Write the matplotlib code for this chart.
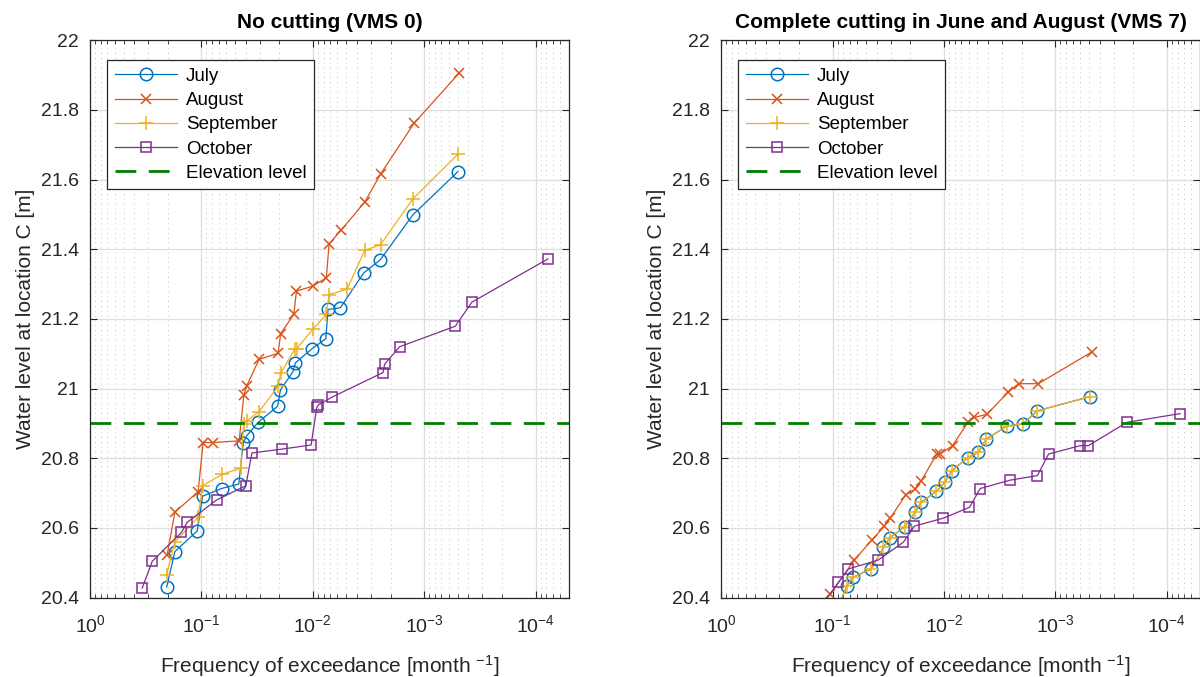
import numpy as np
import matplotlib
matplotlib.use('Agg')
import matplotlib.pyplot as plt
from matplotlib.ticker import LogLocator, FuncFormatter, MultipleLocator, NullFormatter

plt.rcParams['font.family'] = ['Liberation Sans', 'DejaVu Sans']
plt.rcParams['mathtext.fontset'] = 'custom'
plt.rcParams['mathtext.rm'] = 'Liberation Sans'
plt.rcParams['mathtext.it'] = 'Liberation Sans:italic'

# data: frequency of exceedance [1/month], water level [m]
left_july_f = [0.205, 0.173, 0.109, 0.0975, 0.0659, 0.0461, 0.0422, 0.0393, 0.0309, 0.0207, 0.0195,
               0.0151, 0.0143, 0.0101, 0.00764, 0.00729, 0.00565, 0.00349, 0.00247, 0.00126, 0.000497]
left_july_h = [20.43, 20.532, 20.591, 20.691, 20.713, 20.726, 20.843, 20.864, 20.903, 20.949, 20.996,
               21.048, 21.074, 21.115, 21.143, 21.227, 21.232, 21.332, 21.370, 21.499, 21.623]

left_aug_f = [0.203, 0.173, 0.107, 0.0964, 0.0784, 0.0458, 0.0416, 0.0393, 0.0303, 0.0205, 0.0194,
              0.0148, 0.014, 0.0100, 0.00755, 0.00714, 0.00553, 0.00342, 0.00246, 0.00123, 0.000487]
left_aug_h = [20.522, 20.645, 20.704, 20.845, 20.845, 20.850, 20.981, 21.007, 21.084, 21.101, 21.158,
              21.213, 21.280, 21.294, 21.318, 21.415, 21.456, 21.535, 21.616, 21.762, 21.905]

left_sep_f = [0.205, 0.173, 0.107, 0.0975, 0.065, 0.0445, 0.0416, 0.0393, 0.0303, 0.0205, 0.0194,
              0.0145, 0.0139, 0.0100, 0.00755, 0.00714, 0.00492, 0.00342, 0.00246, 0.00126, 0.000497]
left_sep_h = [20.465, 20.560, 20.630, 20.721, 20.754, 20.771, 20.898, 20.907, 20.934, 21.006, 21.044,
              21.113, 21.115, 21.170, 21.213, 21.270, 21.285, 21.397, 21.413, 21.545, 21.673]

left_oct_f = [0.34, 0.276, 0.151, 0.134, 0.0731, 0.0399, 0.0352, 0.019, 0.01035, 0.0092, 0.0089,
              0.00665, 0.00234, 0.00226, 0.00166, 0.000525, 0.000373, 7.76e-5]
left_oct_h = [20.427, 20.504, 20.587, 20.616, 20.680, 20.721, 20.815, 20.826, 20.838, 20.946, 20.953,
              20.976, 21.046, 21.070, 21.120, 21.179, 21.248, 21.372]

right_july_f = [0.095, 0.0744, 0.0657, 0.0450, 0.0349, 0.0308, 0.0226, 0.0181, 0.0161, 0.0117, 0.00976,
                0.00849, 0.0061, 0.0049, 0.00418, 0.00269, 0.00196, 0.00145, 0.000487]
right_july_h = [20.35, 20.434, 20.458, 20.482, 20.544, 20.571, 20.603, 20.645, 20.673, 20.705, 20.732,
                20.764, 20.802, 20.817, 20.855, 20.893, 20.898, 20.936, 20.977]

right_aug_f = [0.16, 0.105, 0.0636, 0.0444, 0.0342, 0.0304, 0.022, 0.0181, 0.016, 0.0116, 0.0108,
               0.00838, 0.00603, 0.00536, 0.00412, 0.00264, 0.00214, 0.00142, 0.000471]
right_aug_h = [20.35, 20.409, 20.508, 20.565, 20.605, 20.628, 20.695, 20.711, 20.735, 20.812, 20.812,
               20.836, 20.905, 20.917, 20.926, 20.990, 21.014, 21.014, 21.105]

right_sep_f = [0.095, 0.0744, 0.0657, 0.0450, 0.0349, 0.0308, 0.0226, 0.0181, 0.0161, 0.0117, 0.00976,
               0.00849, 0.0061, 0.0049, 0.00418, 0.00269, 0.00196, 0.00145, 0.000487]
right_sep_h = [20.35, 20.434, 20.458, 20.482, 20.544, 20.571, 20.603, 20.645, 20.673, 20.705, 20.732,
               20.764, 20.802, 20.817, 20.855, 20.893, 20.898, 20.936, 20.977]

right_oct_f = [0.144, 0.0885, 0.072, 0.0387, 0.0231, 0.0184, 0.0101, 0.0059, 0.00473, 0.00255, 0.00145,
               0.00115, 0.000599, 0.000505, 0.000228, 7.59e-5]
right_oct_h = [20.35, 20.444, 20.482, 20.508, 20.559, 20.605, 20.628, 20.659, 20.713, 20.737, 20.750,
               20.812, 20.836, 20.836, 20.903, 20.928]

elevation = 20.9
titles = ['No cutting (VMS 0)', 'Complete cutting in June and August (VMS 7)']
months = ['July', 'August', 'September', 'October']

# MATLAB default colours
colors = ['#0072BD', '#D95319', '#EDB120', '#7E2F8E']
markers = ['o', 'x', '+', 's']
msizes = [9, 7, 10, 7.5]

panels = [
    [(left_july_f, left_july_h), (left_aug_f, left_aug_h), (left_sep_f, left_sep_h), (left_oct_f, left_oct_h)],
    [(right_july_f, right_july_h), (right_aug_f, right_aug_h), (right_sep_f, right_sep_h), (right_oct_f, right_oct_h)],
]

fig = plt.figure(figsize=(12, 6.77), dpi=100)
ax_left = fig.add_axes([0.075, 0.1174, 0.3992, 0.8231])
ax_right = fig.add_axes([0.601, 0.1174, 0.3992, 0.8231])


def log_label(v, pos):
    e = int(round(np.log10(v)))
    return r'$10^{%d}$' % e


for ax, series, title in zip([ax_left, ax_right], panels, titles):
    for (f, h), name, c, m, ms in zip(series, months, colors, markers, msizes):
        ax.plot(f, h, color=c, marker=m, ms=ms, mfc='none', mew=1.1, lw=0.9, label=name)
    ax.axhline(elevation, color='#007F00', ls=(0, (7.5, 4.5)), lw=2, label='Elevation level')

    ax.set_xscale('log')
    ax.set_xlim(1, 5e-5)
    ax.set_ylim(20.4, 22)
    ax.xaxis.set_major_locator(LogLocator(base=10, numticks=10))
    ax.xaxis.set_minor_locator(LogLocator(base=10, subs=np.arange(2, 10), numticks=20))
    ax.xaxis.set_major_formatter(FuncFormatter(log_label))
    ax.xaxis.set_minor_formatter(NullFormatter())
    ax.yaxis.set_major_locator(MultipleLocator(0.2))
    ax.yaxis.set_major_formatter(FuncFormatter(lambda v, p: '%g' % round(v, 1)))

    ax.grid(True, which='major', color='#dedede', lw=0.9)
    ax.grid(True, which='minor', axis='x', color='#c4c4c4', ls=(0, (1, 4)), lw=0.7)
    ax.set_axisbelow(True)
    ax.tick_params(which='both', direction='in', top=True, right=True, labelsize=14, colors='#262626')
    ax.tick_params(axis='x', which='major', length=5, pad=12)
    ax.tick_params(axis='y', which='major', length=5, pad=8)
    ax.tick_params(which='minor', length=3)
    for s in ax.spines.values():
        s.set_color('#262626')
        s.set_linewidth(0.9)

    ax.set_title(title, fontsize=15, fontweight='bold', pad=9)
    ax.set_xlabel('Frequency of exceedance [month $^{-1}$]', fontsize=15, color='#262626', labelpad=12)
    ax.set_ylabel('Water level at location C [m]', fontsize=15, color='#262626', labelpad=4)

    leg = ax.legend(loc='upper left', bbox_to_anchor=(0.036, 0.964), borderaxespad=0, fontsize=13.5,
                    fancybox=False, framealpha=1, edgecolor='#262626', handlelength=3.3,
                    labelspacing=0.38, borderpad=0.4, handletextpad=0.5)
    leg.get_frame().set_linewidth(0.9)

fig.savefig('out.png', dpi=100)
